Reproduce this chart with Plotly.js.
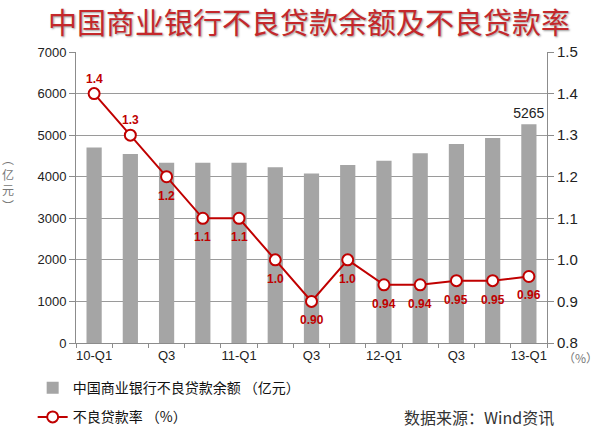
<!DOCTYPE html>
<html>
<head>
<meta charset="utf-8">
<script src="https://cdn.plot.ly/plotly-3.0.1.min.js"></script>
<style>
  html, body { margin: 0; padding: 0; background: #fff; }
  #chart { width: 600px; height: 433px; }
</style>
</head>
<body>
<div id="chart"></div>
<script>
// quarters 2010-Q1 .. 2013-Q1
const quarters = ["10-Q1", "Q2", "Q3", "Q4", "11-Q1", "Q2", "Q3", "Q4",
                  "12-Q1", "Q2", "Q3", "Q4", "13-Q1"];
// NPL balance, 100 million yuan
const nplBalance = [4700, 4548, 4336, 4336, 4333, 4229, 4078, 4279,
                    4382, 4564, 4788, 4929, 5265];
// NPL ratio, %
const nplRatio = [1.4, 1.3, 1.2, 1.1, 1.1, 1.0, 0.90, 1.0,
                  0.94, 0.94, 0.95, 0.95, 0.96];
const ratioLabels = ["1.4", "1.3", "1.2", "1.1", "1.1", "1.0", "0.90", "1.0",
                     "0.94", "0.94", "0.95", "0.95", "0.96"];

const FONT = "Liberation Sans, Arial, Noto Sans CJK SC, sans-serif";
const CJK = "Noto Sans CJK SC, sans-serif";

const xs = quarters.map((q, i) => i);
const last = nplBalance.length - 1;

const barTrace = {
    x: xs,
    y: nplBalance,
    type: "bar",
    name: "中国商业银行不良贷款余额 （亿元）",
    legendgroup: "a",
    width: 0.42,
    marker: {color: "#a5a5a5"},
    text: nplBalance.map((v, i) => i === last ? String(v) : ""),
    textposition: "outside",
    constraintext: "none",
    cliponaxis: false,
    textfont: {family: FONT, size: 14, color: "#222"},
    hoverinfo: "skip"
};

const lineTrace = {
    x: xs,
    y: nplRatio,
    yaxis: "y2",
    type: "scatter",
    mode: "lines+markers",
    name: "不良贷款率 （%）",
    legendgroup: "b",
    line: {color: "#c00000", width: 2},
    marker: {symbol: "circle", size: 11, color: "#fff", line: {color: "#c00000", width: 2}},
    cliponaxis: false,
    hoverinfo: "skip"
};

// value labels of the ratio line: first two above the point, the rest below
const ratioNotes = nplRatio.map((v, i) => ({
    x: xs[i], y: v, xref: "x", yref: "y2",
    text: ratioLabels[i],
    showarrow: false,
    yshift: i < 2 ? 15 : -19,
    font: {family: FONT, size: 12, color: "#c00000", weight: "bold"}
}));

const layout = {
    width: 600,
    height: 433,
    margin: {l: 76, r: 53, t: 52, b: 90, autoexpand: false},
    paper_bgcolor: "#fff",
    plot_bgcolor: "#fff",
    font: {family: FONT, size: 13, color: "#222"},
    title: {
        text: "中国商业银行不良贷款余额及不良贷款率",
        font: {family: CJK, size: 29, color: "#c4282b", shadow: "1px 1px 2px #999"},
        x: 0.515, xanchor: "center",
        y: 0.944, yanchor: "middle",
        xref: "container", yref: "container"
    },
    xaxis: {
        range: [-0.5, quarters.length - 0.5],
        tickmode: "array",
        tickvals: xs.filter(i => i % 2 === 0),
        ticktext: quarters.filter((q, i) => i % 2 === 0),
        ticks: "",
        showgrid: false,
        zeroline: false,
        showline: true,
        linecolor: "#8c8c8c",
        linewidth: 1,
        tickfont: {family: FONT, size: 13, color: "#222"},
        minor: {ticks: "outside", tick0: -0.5, dtick: 1, ticklen: 4, tickcolor: "#8c8c8c", showgrid: false}
    },
    yaxis: {
        range: [0, 7000],
        dtick: 1000,
        showgrid: true,
        gridcolor: "#9a9a9a",
        gridwidth: 1,
        zeroline: false,
        showline: true,
        linecolor: "#8c8c8c",
        ticks: "outside",
        ticklen: 6,
        tickcolor: "#8c8c8c",
        tickfont: {family: FONT, size: 13, color: "#222"}
    },
    yaxis2: {
        overlaying: "y",
        side: "right",
        range: [0.8, 1.5],
        dtick: 0.1,
        tickformat: ".1f",
        showgrid: false,
        zeroline: false,
        showline: true,
        linecolor: "#8c8c8c",
        ticks: "outside",
        ticklen: 6,
        tickcolor: "#8c8c8c",
        tickfont: {family: FONT, size: 15, color: "#222"}
    },
    showlegend: true,
    legend: {
        orientation: "v",
        x: -0.092, xanchor: "left",
        y: -0.1, yanchor: "top",
        traceorder: "grouped",
        tracegroupgap: 8,
        itemwidth: 30,
        font: {family: CJK, size: 14, color: "#111"},
        bgcolor: "rgba(0,0,0,0)"
    },
    annotations: ratioNotes.concat([
        {
            text: "数据来源：Wind资讯",
            xref: "paper", yref: "paper",
            x: 1.02, y: -0.255, xanchor: "right", yanchor: "middle",
            showarrow: false,
            font: {family: CJK, size: 16, color: "#333"}
        },
        {
            text: "︵<br>亿<br>元<br>︶",
            xref: "paper", yref: "paper",
            x: -0.144, y: 0.553, xanchor: "center", yanchor: "middle",
            showarrow: false,
            font: {family: CJK, size: 12, color: "#777"}
        },
        {
            text: "（%）",
            xref: "paper", yref: "paper",
            x: 1.03, y: -0.05, xanchor: "left", yanchor: "middle",
            showarrow: false,
            font: {family: CJK, size: 12, color: "#777"}
        }
    ])
};

Plotly.newPlot("chart", [barTrace, lineTrace], layout, {displayModeBar: false, staticPlot: true});
</script>
</body>
</html>
